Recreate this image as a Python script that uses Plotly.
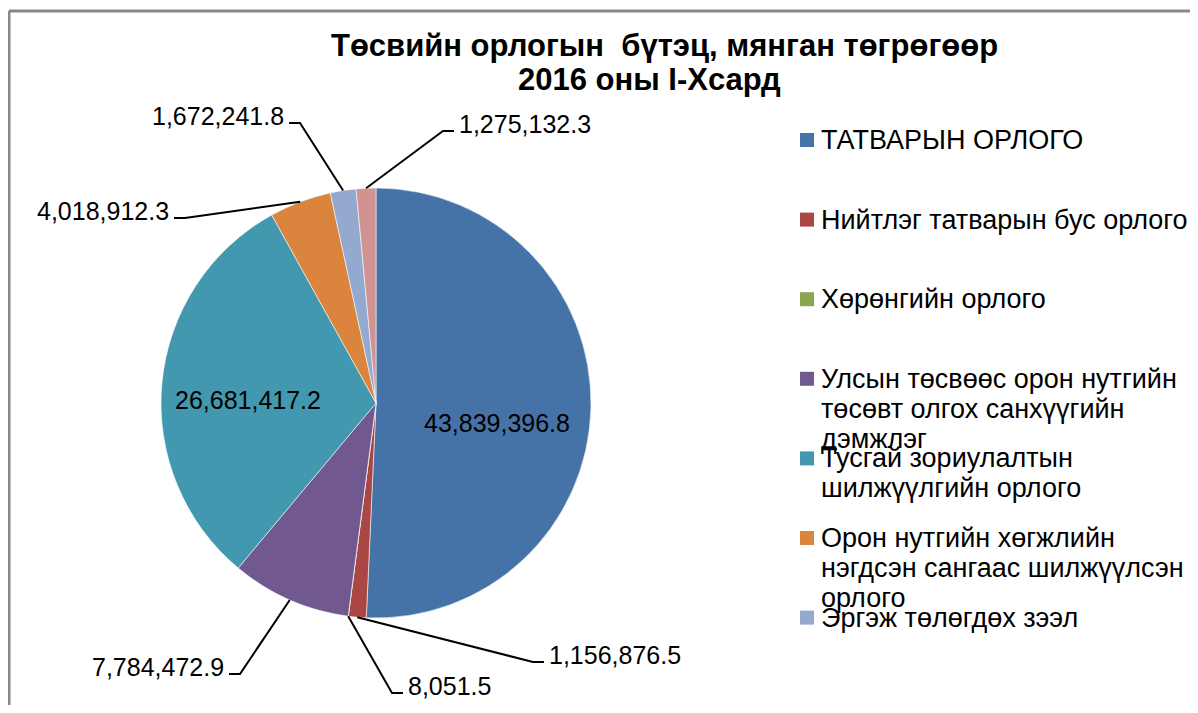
import math
import textwrap
import plotly.graph_objects as go

# Data (thousand tugrik, 2016 Q1)
labels = [
    "ТАТВАРЫН ОРЛОГО",
    "Нийтлэг татварын бус орлого",
    "Хөрөнгийн орлого",
    "Улсын төсвөөс орон нутгийн төсөвт олгох санхүүгийн дэмжлэг",
    "Тусгай зориулалтын шилжүүлгийн орлого",
    "Орон нутгийн хөгжлийн нэгдсэн сангаас шилжүүлсэн орлого",
    "Эргэж төлөгдөх зээл",
    "Бусад орлого",
]
values = [43839396.8, 1156876.5, 8051.5, 7784472.9, 26681417.2,
          4018912.3, 1672241.8, 1275132.3]
colors = ["#4572A7", "#AA4643", "#89A54E", "#71588F", "#4198AF",
          "#DB843D", "#93A9CF", "#D19392"]

# the page adds an 8px body margin, so the figure is drawn 8px in and
# everything below is given in window pixels
OFF = 8
W, H = 1198 - 2 * OFF, 713 - 2 * OFF
FONT = "Liberation Sans, Arial, sans-serif"

# pie geometry in window pixels
cx, cy, R = 376, 403, 215


def px(x):
    return (x - OFF) / W


def py(y):
    return 1 - (y - OFF) / H


fig = go.Figure()
fig.add_trace(go.Pie(
    labels=labels,
    values=values,
    sort=False,
    direction="clockwise",
    rotation=0,
    textinfo="none",
    marker=dict(colors=colors, line=dict(color="rgba(255,255,255,0.7)", width=0.8)),
    domain=dict(x=[px(cx - R), px(cx + R)], y=[py(cy + R), py(cy - R)]),
    hovertemplate="%{label}<br>%{value:,.1f}<extra></extra>",
))

shapes = []
annotations = []

# slice mid angles (degrees clockwise from 12 o'clock)
total = sum(values)
mids = []
acc = 0
for v in values:
    mids.append((acc + v / 2) / total * 360)
    acc += v


def fmt(v):
    return f"{v:,.1f}"


# big slices labelled inside
inside = {0: (497, 423), 4: (248, 400)}
for i, (x, y) in inside.items():
    annotations.append(dict(x=px(x), y=py(y), xref="paper", yref="paper",
                            text=fmt(values[i]), showarrow=False,
                            xanchor="center", yanchor="middle",
                            font=dict(family=FONT, size=25, color="black")))

# small slices: leader line elbow + side of the text
outside = {
    1: (533, 662, 1),
    2: (392, 693, 1),
    3: (240, 674, -1),
    5: (185, 218, -1),
    6: (300, 123, -1),
    7: (443, 131, 1),
}
for i, (ex, ey, side) in outside.items():
    a = math.radians(mids[i])
    sx = cx + R * math.sin(a)
    sy = cy - R * math.cos(a)
    hx = ex + side * 11
    shapes.append(dict(type="path", xref="paper", yref="paper",
                       path=f"M {px(sx)} {py(sy)} L {px(ex)} {py(ey)} L {px(hx)} {py(ey)}",
                       line=dict(color="black", width=2)))
    annotations.append(dict(x=px(hx + side * 3), y=py(ey - 7), xref="paper", yref="paper",
                            text=fmt(values[i]), showarrow=False,
                            xanchor="left" if side > 0 else "right", yanchor="middle",
                            font=dict(family=FONT, size=25, color="black")))

# title
annotations.append(dict(x=px(664), y=py(45), xref="paper", yref="paper",
                        text="<b>Төсвийн орлогын  бүтэц, мянган төгрөгөөр</b>",
                        showarrow=False, xanchor="center", yanchor="middle",
                        font=dict(family=FONT, size=31, color="black")))
annotations.append(dict(x=px(649), y=py(80), xref="paper", yref="paper",
                        text="<b>2016 оны I-Хсард</b>",
                        showarrow=False, xanchor="center", yanchor="middle",
                        font=dict(family=FONT, size=31, color="black")))

# legend drawn by hand (only the first seven entries fit in the frame)
for i in range(7):
    y0 = 140 + i * 79.6
    shapes.append(dict(type="rect", xref="paper", yref="paper",
                       x0=px(800), x1=px(814), y0=py(y0 - 7), y1=py(y0 + 7),
                       fillcolor=colors[i], line=dict(width=0)))
    for j, line in enumerate(textwrap.wrap(labels[i], 27)):
        annotations.append(dict(x=px(819), y=py(y0 + j * 30), xref="paper", yref="paper",
                                text=line, showarrow=False,
                                xanchor="left", yanchor="middle",
                                font=dict(family=FONT, size=27, color="black")))

# chart frame (left and top edges visible)
shapes.append(dict(type="line", xref="paper", yref="paper", x0=px(9), x1=px(9),
                   y0=py(11), y1=0, line=dict(color="#888888", width=3)))
shapes.append(dict(type="line", xref="paper", yref="paper", x0=px(9), x1=1,
                   y0=py(11), y1=py(11), line=dict(color="#888888", width=3)))

fig.update_layout(
    width=W, height=H,
    margin=dict(l=0, r=0, t=0, b=0),
    paper_bgcolor="white",
    plot_bgcolor="white",
    showlegend=False,
    shapes=shapes,
    annotations=annotations,
    font=dict(family=FONT),
)

fig.write_html("out.html")
